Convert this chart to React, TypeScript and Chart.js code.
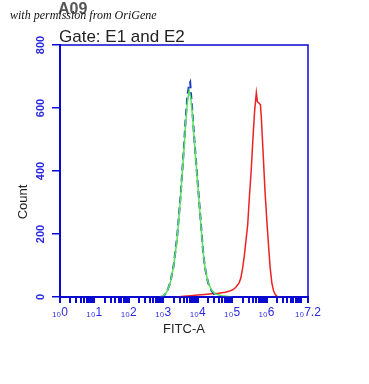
import React, { useEffect, useRef } from 'react';
import { Chart, registerables } from 'chart.js';
Chart.register(...registerables);

// x values are log10(FITC-A)
const xMajorExponents = [0, 1, 2, 3, 4, 5, 6, 7.2];
const yTickValues = [0, 200, 400, 600, 800];

const greenX = [2.9, 3.0, 3.1, 3.2, 3.3, 3.4, 3.5, 3.55, 3.6, 3.65, 3.7, 3.75, 3.8, 3.85, 3.9, 3.95, 4.0, 4.05, 4.1, 4.15, 4.2, 4.25, 4.3, 4.4, 4.5, 4.7, 5.0];
const greenY = [0, 3, 16, 44, 98, 185, 315, 395, 470, 555, 620, 655, 630, 570, 495, 425, 355, 285, 215, 150, 100, 72, 46, 22, 10, 4, 0];

const blueX = [2.9, 3.0, 3.1, 3.2, 3.3, 3.4, 3.5, 3.55, 3.6, 3.65, 3.7, 3.75, 3.78, 3.8, 3.85, 3.9, 3.95, 4.0, 4.05, 4.1, 4.15, 4.2, 4.25, 4.3, 4.4, 4.5, 4.6];
const blueY = [0, 2, 15, 45, 100, 190, 320, 400, 480, 570, 640, 675, 682, 650, 580, 500, 430, 360, 290, 220, 150, 100, 70, 45, 20, 5, 0];

const redX = [3.4, 3.6, 3.8, 4.0, 4.2, 4.4, 4.6, 4.8, 4.9, 5.0, 5.1, 5.2, 5.25, 5.3, 5.35, 5.4, 5.45, 5.5, 5.55, 5.6, 5.65, 5.7, 5.73, 5.78, 5.82, 5.85, 5.9, 5.95, 6.0, 6.05, 6.1, 6.15, 6.2, 6.25, 6.3, 6.4];
const redY = [0, 2, 4, 6, 8, 10, 12, 15, 18, 22, 30, 45, 60, 90, 130, 180, 230, 320, 400, 500, 590, 648, 620, 615, 610, 560, 450, 340, 250, 170, 95, 45, 20, 8, 2, 0];

const AXIS_BLUE = 'rgb(10,10,210)';
const LABEL_BLUE = 'rgb(40,40,225)';

const toPoints = (xs: number[], ys: number[]) => xs.map((x, i) => ({ x, y: ys[i] }));

const textPlugin = {
  id: 'annotText',
  afterDraw(chart: any) {
    const ctx = chart.ctx as CanvasRenderingContext2D;
    const area = chart.chartArea;
    ctx.save();
    // box
    ctx.strokeStyle = AXIS_BLUE;
    ctx.lineWidth = 1.5;
    ctx.strokeRect(area.left, area.top, area.right - area.left, area.bottom - area.top);
    // A09
    ctx.fillStyle = '#555';
    ctx.font = 'bold 16px "Liberation Sans", Arial, sans-serif';
    ctx.textAlign = 'left';
    ctx.textBaseline = 'alphabetic';
    ctx.fillText('A09', 58, 14);
    // watermark
    ctx.fillStyle = '#111';
    ctx.font = 'italic 12px "Liberation Serif", serif';
    ctx.fillText('with permission from OriGene', 10, 19);
    // Gate
    ctx.fillStyle = '#222';
    ctx.font = '17px "Liberation Sans", Arial, sans-serif';
    ctx.fillText('Gate: E1 and E2', 59, 42);
    // Count
    ctx.translate(27, 202);
    ctx.rotate(-Math.PI / 2);
    ctx.textAlign = 'center';
    ctx.font = '13px "Liberation Sans", Arial, sans-serif';
    ctx.fillText('Count', 0, 0);
    ctx.restore();
  },
};

export default function App() {
  const ref = useRef<HTMLCanvasElement>(null);
  useEffect(() => {
    if (!ref.current) return;
    const minorPositions: number[] = [];
    for (let n = 0; n <= 7; n++) {
      for (let k = 1; k <= 9; k++) {
        const v = n + Math.log10(k);
        if (v <= 7.2 + 1e-9) minorPositions.push(v);
      }
    }
    minorPositions.push(7.2);
    const chart = new Chart(ref.current, {
      type: 'line',
      data: {
        datasets: [
          {
            label: 'green',
            data: toPoints(greenX, greenY),
            borderColor: 'rgb(90,225,90)',
            borderWidth: 1.5,
            pointRadius: 0,
            tension: 0,
          },
          {
            label: 'blue',
            data: toPoints(blueX, blueY),
            borderColor: 'rgb(25,55,200)',
            borderWidth: 2,
            borderDash: [7, 4],
            pointRadius: 0,
            tension: 0,
          },
          {
            label: 'red',
            data: toPoints(redX, redY),
            borderColor: 'rgb(235,35,35)',
            borderWidth: 1.5,
            pointRadius: 0,
            tension: 0,
          },
        ],
      },
      options: {
        responsive: false,
        animation: false,
        layout: { padding: { left: 0, top: 45, right: 61, bottom: 47 } },
        plugins: { legend: { display: false }, tooltip: { enabled: false } },
        scales: {
          x: {
            type: 'linear',
            min: 0,
            max: 7.2,
            afterBuildTicks: (scale: any) => {
              scale.ticks = minorPositions.map((v) => ({ value: v }));
            },
            afterFit: (scale: any) => {
              scale.height = 40;
            },
            ticks: {
              autoSkip: false,
              maxRotation: 0,
              minRotation: 0,
              color: LABEL_BLUE,
              padding: 2,
              font: { size: 12, family: '"Liberation Sans", Arial, sans-serif' },
              callback: (value: any) => {
                const v = Number(value);
                if (Math.abs(v - 7.2) < 1e-6) return '\u2081\u20807.2';
                if (Math.abs(v - Math.round(v)) < 1e-6 && xMajorExponents.includes(Math.round(v))) return '\u2081\u2080' + Math.round(v);
                return '';
              },
            },
            grid: { drawOnChartArea: false, color: AXIS_BLUE, tickColor: AXIS_BLUE, tickLength: 6, lineWidth: 2 },
            border: { color: AXIS_BLUE, width: 2 },
            title: {
              display: true,
              text: 'FITC-A',
              color: '#222',
              padding: { top: 4, bottom: 0 },
              font: { size: 13, family: '"Liberation Sans", Arial, sans-serif' },
            },
          },
          y: {
            type: 'linear',
            min: 0,
            max: 800,
            afterBuildTicks: (scale: any) => {
              scale.ticks = yTickValues.map((v) => ({ value: v }));
            },
            afterFit: (scale: any) => {
              scale.width = 60;
            },
            ticks: {
              minRotation: 90,
              maxRotation: 90,
              crossAlign: 'center',
              color: LABEL_BLUE,
              padding: 2,
              font: { size: 11, weight: 'bold', family: '"Liberation Sans", Arial, sans-serif' },
            },
            grid: { drawOnChartArea: false, color: AXIS_BLUE, tickColor: AXIS_BLUE, tickLength: 8, lineWidth: 1.5 },
            border: { color: AXIS_BLUE, width: 2 },
          },
        },
      },
      plugins: [textPlugin],
    } as any);
    return () => chart.destroy();
  }, []);
  return (
    <div style={{ position: 'absolute', left: 0, top: 0, width: 369, height: 384, background: '#fff' }}>
      <canvas ref={ref} width={369} height={384} style={{ width: 369, height: 384 }} />
    </div>
  );
}
